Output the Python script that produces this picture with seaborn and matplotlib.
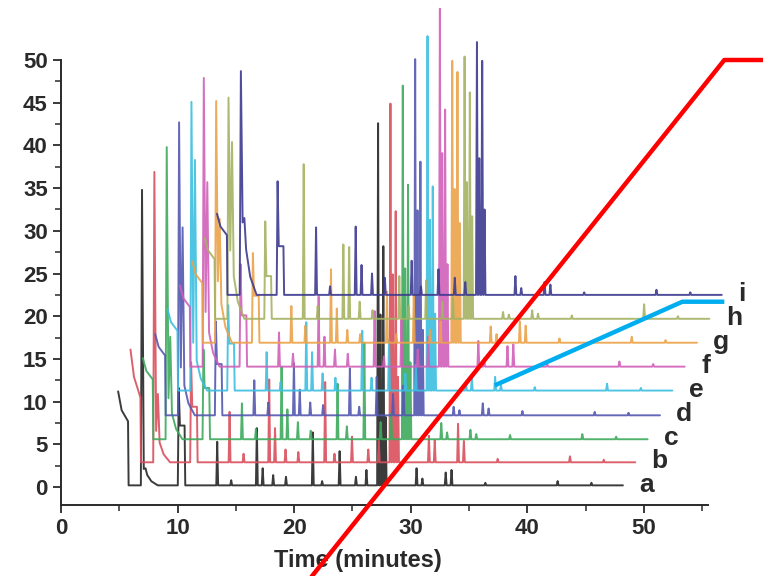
import numpy as np
import pandas as pd
import matplotlib
matplotlib.use("Agg")
import matplotlib.pyplot as plt
import seaborn as sns


# chromatogram runs a..i, stacked with an x and y offset
TRACES = list("abcdefghi")
COLORS = ["#262626", "#d9505c", "#3daa5c", "#5458b0", "#3cbfe0",
          "#d060b8", "#eba24a", "#a5b262", "#3d3a90"]
X_SHIFT = [0.0, 1.06, 2.12, 3.18, 4.24, 5.30, 6.36, 7.42, 8.48]
Y_SHIFT = [0.2, 2.9, 5.6, 8.4, 11.3, 14.1, 16.9, 19.7, 22.5]
RUN_START = 4.9
RUN_END = 48.2

# injection hook at the start of each run
HOOK_TOP = [11.0, 13.2, 9.5, 9.5, 9.5, 9.5, 9.5, 9.5, 9.5]
HOOK_MID = [8.8, 10.0, 8.0, 8.0, 8.0, 8.0, 8.0, 8.0, 8.0]
HOOK_LOW = [7.5, 7.6, 7.0, 7.0, 7.0, 7.0, 7.0, 7.0, 7.0]

# solvent front (6.95 and 7.25 min) and the 10.1 min peak with its shoulder
SOLVENT_H = [34.6, 34.0, 34.2, 34.3, 33.8, 33.8, 28.3, 25.9, 26.2]
SOLVENT2_H = [2.0, 8.0, 12.0, 22.0, 27.0, 21.6, 14.5, 20.7, 9.0]
TAIL = [1.2, 2.3, 3.0, 3.5, 3.5, 4.0, 4.5, 5.0, 5.3]
P10_H = [11.4, 11.7, 10.5, 11.0, 10.0, 12.0, 10.5, 11.4, 13.3]
SHOULDER = [7.0, 6.5, 6.0, 6.0, 5.5, 6.0, 5.5, 5.0, 5.7]

# remaining peaks, retention time in each run's own frame
PEAK_RT = [13.4, 14.6, 16.8, 17.3, 18.2, 19.3, 21.6, 22.4, 23.9, 25.3, 26.2,
           27.2, 27.4, 27.65, 27.85, 30.5, 31.0, 33.0, 33.5, 36.4, 42.6, 45.5]
H_A = [5.1, 0.6, 6.7, 2.0, 1.2, 1.0, 6.2, 0.5, 4.0, 1.0, 1.8,
       42.4, 20, 28, 8, 2.0, 0.8, 1.5, 1.8, 0.3, 0.5, 0.3]
H_B = [5.9, 1.0, 9.7, 4.0, 1.5, 1.2, 9.4, 1.0, 3.0, 1.5, 2.5,
       42.0, 22, 29.4, 10, 3.1, 2.6, 4.5, 2.5, 0.4, 0.7, 0.3]
H_C = [4.2, 1.2, 8.5, 3.5, 2.0, 1.0, 6.5, 1.5, 11.3, 2.0, 3.0,
       41.4, 20, 29.8, 9, 1.9, 0.8, 1.1, 0.6, 0.5, 0.6, 0.3]
H_D = [4.1, 1.5, 6.1, 3.0, 1.5, 1.2, 5.5, 1.0, 4.5, 2.5, 3.5,
       41.7, 24, 29.7, 10, 1.0, 0.6, 1.4, 0.8, 0.5, 0.4, 0.3]
H_E = [4.5, 1.0, 8.0, 4.5, 2.0, 1.5, 7.0, 1.5, 6.0, 2.0, 3.0,
       41.5, 20, 23.9, 9, 0.8, 1.5, 1.6, 0.6, 0.4, 0.8, 0.3]
H_F = [4.0, 1.5, 8.2, 3.5, 2.0, 1.5, 6.5, 1.2, 5.5, 2.0, 3.5,
       41.9, 25, 30.1, 12, 3.0, 1.0, 2.4, 2.6, 0.4, 0.6, 0.3]
H_G = [4.3, 2.0, 8.6, 4.0, 1.5, 1.0, 6.0, 1.0, 5.5, 1.5, 2.5,
       33.0, 18, 31.7, 14, 1.9, 1.0, 2.5, 2.0, 0.5, 0.7, 0.3]
H_H = [18.1, 1.5, 8.7, 8.4, 2.0, 1.0, 5.0, 1.5, 4.5, 2.0, 2.5,
       30.7, 16, 26.5, 12, 0.8, 0.5, 1.0, 0.6, 0.4, 1.7, 0.3]
H_I = [7.9, 1.0, 8.0, 3.5, 2.5, 2.0, 4.0, 1.0, 3.0, 2.0, 1.5,
       29.6, 16, 27.4, 10, 2.2, 0.8, 1.5, 1.2, 0.3, 0.6, 0.3]
HEIGHTS = [H_A, H_B, H_C, H_D, H_E, H_F, H_G, H_H, H_I]

# overlay strokes drawn on top of the figure
RED_X = [20.9, 56.9, 62.0]
RED_Y = [-11.5, 50.0, 50.0]
CYAN_X = [37.2, 53.3, 56.9]
CYAN_Y = [11.9, 21.7, 21.7]

W = 0.08
TXT = "#2a2a2a"


def run_points(k):
    t = [RUN_START, 5.2, 5.75, 5.8,
         6.85, 6.95, 7.1, 7.25, 7.4, 7.75, 8.3,
         10.02, 10.1, 10.2, 10.6, 10.66]
    v = [HOOK_TOP[k], HOOK_MID[k], HOOK_LOW[k], 0,
         0, SOLVENT_H[k], TAIL[k] * 1.6, SOLVENT2_H[k], TAIL[k], TAIL[k] * 0.4, 0,
         0, P10_H[k], SHOULDER[k], SHOULDER[k], 0]
    for rt, h in zip(PEAK_RT, HEIGHTS[k]):
        t += [rt - W, rt, rt + W]
        v += [0, h, 0]
    t.append(RUN_END)
    v.append(0)
    return t, v


rows = []
for k, lab in enumerate(TRACES):
    t, v = run_points(k)
    for ti, vi in zip(t, v):
        rows.append({"trace": lab, "time": ti + X_SHIFT[k], "signal": vi + Y_SHIFT[k]})
df = pd.DataFrame(rows)

sns.set_theme(style="ticks")
plt.rcParams["font.family"] = ["Liberation Sans", "DejaVu Sans"]

fig = plt.figure(figsize=(7.63, 5.76), dpi=100)
ax = fig.add_axes([61 / 763, 1 - 505 / 576, 647 / 763, 445 / 576])

sns.lineplot(data=df, x="time", y="signal", hue="trace", hue_order=TRACES,
             palette=COLORS, estimator=None, sort=False, linewidth=1.4,
             alpha=0.9, legend=False, ax=ax)
for line in ax.lines:
    line.set_clip_on(False)

for k, lab in enumerate(TRACES):
    ax.text(RUN_END + X_SHIFT[k] + 1.4, Y_SHIFT[k] + 0.1, lab, fontsize=19,
            fontweight="bold", color=TXT, ha="left", va="center")

ax.set_xlim(0, 55.5)
ax.set_ylim(-2.1, 50)
ax.set_xticks(np.arange(0, 51, 10))
ax.set_xticks(np.arange(5, 56, 10), minor=True)
ax.set_yticks(np.arange(0, 51, 5))
ax.set_yticks(np.arange(2.5, 50, 5), minor=True)
ax.tick_params(which="major", length=6, width=1.3, color=TXT, labelsize=16,
               labelcolor=TXT)
ax.tick_params(which="minor", length=4, width=1.1, color=TXT)
for lbl in ax.get_xticklabels() + ax.get_yticklabels():
    lbl.set_fontweight("bold")
sns.despine(ax=ax)
for s in ["left", "bottom"]:
    ax.spines[s].set_linewidth(1.4)
    ax.spines[s].set_color(TXT)

ax.set_xlabel("Time (minutes)", fontsize=17, fontweight="bold", color=TXT)
ax.xaxis.set_label_coords(0.459, -0.1)
ax.set_ylabel("")

ax.plot(RED_X, RED_Y, color="#ff0000", linewidth=3.2, clip_on=False,
        solid_capstyle="butt", zorder=5)
ax.plot(CYAN_X, CYAN_Y, color="#00aeef", linewidth=3.2, clip_on=False,
        solid_capstyle="butt", zorder=5)

plt.savefig("out.png", dpi=100)
plt.close()
